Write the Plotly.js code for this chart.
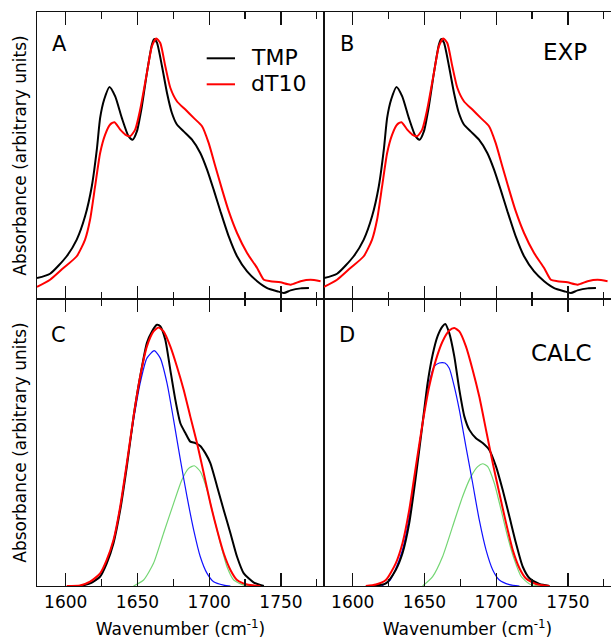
<!DOCTYPE html>
<html>
<head>
<meta charset="utf-8">
<script src="https://cdn.plot.ly/plotly-3.0.1.min.js"></script>
<style>html,body{margin:0;padding:0;background:#fff;}#chart{width:611px;height:641px;}</style>
</head>
<body>
<div id="chart"></div>
<script>
// ---------- EXP data (panels A and B) ----------
const expWnTMP = [1580,1589.1,1600.7,1607.7,1613.5,1618.2,1621.7,1624.0,1626.8,1630.5,1634.5,1639.1,1643.8,1646.6,1649.6,1653.1,1656.6,1660.1,1661.7,1663.6,1667.1,1670.6,1674.0,1677.5,1682.2,1688.0,1693.8,1698.5,1703.1,1707.8,1713.6,1719.4,1726.4,1733.4,1740.4,1747.4,1752.0,1756.7,1763.7,1769.5];
const expAbsTMP = [0.073,0.088,0.149,0.207,0.288,0.393,0.521,0.631,0.695,0.739,0.706,0.631,0.567,0.555,0.584,0.672,0.788,0.887,0.906,0.893,0.811,0.718,0.648,0.608,0.584,0.555,0.509,0.451,0.381,0.306,0.218,0.149,0.096,0.062,0.038,0.027,0.021,0.030,0.037,0.038];
const expWnDT10 = [1580,1589.1,1598.4,1607.7,1613.5,1617.0,1620.5,1624.0,1627.5,1631.0,1634.0,1638.0,1641.5,1644.9,1648.4,1651.9,1656.6,1660.1,1663.1,1665.9,1669.4,1672.9,1677.5,1683.4,1689.2,1695.0,1699.6,1704.3,1709.0,1713.6,1719.4,1726.4,1733.4,1738.1,1742.7,1749.7,1756.7,1763.7,1770.6,1777.6];
const expAbsDT10 = [0.042,0.067,0.108,0.149,0.207,0.277,0.393,0.509,0.573,0.608,0.616,0.590,0.573,0.567,0.590,0.660,0.788,0.881,0.908,0.892,0.811,0.736,0.689,0.660,0.631,0.602,0.544,0.462,0.381,0.306,0.230,0.160,0.108,0.067,0.062,0.058,0.050,0.062,0.067,0.062];

// ---------- CALC data, panel C ----------
const cWnTMP = [1610,1617.0,1624.0,1628.6,1633.3,1638.0,1642.6,1647.3,1651.9,1656.6,1660.1,1663.6,1665.9,1669.4,1672.9,1676.4,1679.9,1683.4,1686.8,1690.3,1693.8,1697.3,1700.8,1705.5,1710.1,1714.8,1719.4,1724.1,1731.1,1738.1];
const cAbsTMP = [0,0.009,0.033,0.079,0.149,0.265,0.416,0.591,0.730,0.847,0.887,0.910,0.905,0.858,0.753,0.649,0.567,0.533,0.503,0.498,0.488,0.463,0.428,0.347,0.265,0.184,0.102,0.044,0.012,0];
const cWnFit = [1600.7,1610,1617,1624,1628.6,1633.3,1638.0,1642.6,1647.3,1651.9,1656.6,1661.2,1664.7,1668.2,1672.9,1677.5,1682.2,1686.8,1691.5,1696.2,1700.8,1705.5,1710.1,1714.8,1719.4,1726.4,1735.7];
const cAbsFit = [0,0.002,0.015,0.044,0.091,0.160,0.277,0.428,0.591,0.730,0.835,0.887,0.901,0.887,0.835,0.765,0.684,0.591,0.498,0.393,0.288,0.195,0.114,0.056,0.021,0.005,0];
const cWnBlue = [1610,1617,1624,1628.6,1633.3,1638.0,1642.6,1647.3,1651.9,1656.6,1661.7,1665.9,1670.6,1675.2,1679.9,1684.5,1689.2,1693.8,1698.5,1703.1,1710.1,1714.8];
const cAbsBlue = [0,0.010,0.033,0.085,0.160,0.277,0.428,0.579,0.707,0.794,0.820,0.794,0.707,0.579,0.440,0.312,0.195,0.102,0.044,0.015,0.003,0];
const cWnGreen = [1647.3,1654.3,1661.2,1668.2,1675.2,1681.0,1685.7,1689.6,1693.8,1698.5,1703.1,1707.8,1712.4,1717.1,1724.1,1731.1];
const cAbsGreen = [0,0.021,0.079,0.184,0.288,0.370,0.410,0.419,0.399,0.335,0.242,0.149,0.067,0.021,0.003,0];

// ---------- CALC data, panel D ----------
const dWnTMP = [1613.8,1623.1,1630.0,1634.7,1639.4,1644.0,1648.7,1652.2,1655.7,1659.1,1662.6,1664.5,1667.3,1670.8,1674.3,1677.8,1681.3,1685.9,1690.6,1695.2,1699.9,1704.5,1709.2,1713.8,1718.5,1723.2,1730.1,1737.1];
const dAbsTMP = [0,0.009,0.056,0.114,0.219,0.381,0.567,0.707,0.806,0.870,0.905,0.913,0.881,0.800,0.684,0.591,0.544,0.515,0.498,0.474,0.416,0.335,0.242,0.149,0.067,0.027,0.007,0];
const dWnFit = [1609.1,1616.1,1623.1,1630.0,1634.7,1639.4,1644.0,1648.7,1653.3,1658.0,1662.6,1667.3,1670.8,1674.3,1678.9,1683.6,1688.2,1692.9,1697.6,1702.2,1706.9,1711.5,1716.2,1720.8,1727.8,1737.1];
const dAbsFit = [0,0.005,0.021,0.079,0.149,0.265,0.416,0.567,0.695,0.788,0.852,0.890,0.899,0.887,0.835,0.753,0.660,0.544,0.428,0.323,0.219,0.126,0.062,0.026,0.007,0];
const dWnBlue = [1620,1626,1630.0,1634.7,1639.4,1644.0,1648.7,1653.3,1656.8,1660.3,1664.3,1667.3,1670.8,1674.3,1678.9,1683.6,1688.2,1692.9,1697.6,1702.2,1709.2,1716.2];
const dAbsBlue = [0,0.020,0.060,0.126,0.242,0.405,0.567,0.707,0.765,0.777,0.777,0.759,0.695,0.614,0.486,0.358,0.230,0.126,0.056,0.021,0.005,0];
const dWnGreen = [1648.7,1655.7,1662.6,1669.6,1676.6,1682.4,1687.1,1690.6,1694.1,1698.7,1703.4,1708.0,1712.7,1717.4,1723.2,1730.1];
const dAbsGreen = [0,0.033,0.102,0.207,0.312,0.381,0.416,0.426,0.416,0.358,0.265,0.171,0.091,0.033,0.007,0];

const seriesNames = ['TMP', 'dT10'];
const panelLabels = ['A', 'B', 'C', 'D'];
const groupLabels = ['EXP', 'CALC'];
const xTitle = 'Wavenumber (cm<sup>-1</sup>)';
const yTitle = 'Absorbance (arbitrary units)';

const FONT = 'DejaVu Sans, Arial, sans-serif';
const BLACK = '#000000', RED = '#ff0000', BLUE = '#1010ff', GREEN = '#74d674';

function tr(x, y, color, width, xa, ya) {
  return {x: x, y: y, type: 'scatter', mode: 'lines', xaxis: xa, yaxis: ya,
          line: {color: color, width: width, shape: 'spline', smoothing: 0.6},
          showlegend: false, hoverinfo: 'skip'};
}

const data = [
  tr(expWnTMP, expAbsTMP, BLACK, 2, 'x', 'y'),
  tr(expWnDT10, expAbsDT10, RED, 2, 'x', 'y'),
  tr(expWnTMP, expAbsTMP, BLACK, 2, 'x2', 'y2'),
  tr(expWnDT10, expAbsDT10, RED, 2, 'x2', 'y2'),
  tr(cWnGreen, cAbsGreen, GREEN, 1.2, 'x3', 'y3'),
  tr(cWnBlue, cAbsBlue, BLUE, 1.2, 'x3', 'y3'),
  tr(cWnTMP, cAbsTMP, BLACK, 2, 'x3', 'y3'),
  tr(cWnFit, cAbsFit, RED, 2, 'x3', 'y3'),
  tr(dWnGreen, dAbsGreen, GREEN, 1.2, 'x4', 'y4'),
  tr(dWnBlue, dAbsBlue, BLUE, 1.2, 'x4', 'y4'),
  tr(dWnTMP, dAbsTMP, BLACK, 2, 'x4', 'y4'),
  tr(dWnFit, dAbsFit, RED, 2, 'x4', 'y4')
];

function xax(domain, anchor, labels) {
  const a = {domain: domain, anchor: anchor, range: [1580, 1780], showgrid: false, zeroline: false,
    showline: true, linecolor: '#111', linewidth: 1.3, mirror: 'ticks',
    ticks: 'inside', ticklen: 13, tickwidth: 1.3, tickcolor: '#111', tick0: 1600, dtick: 50,
    minor: {dtick: 25, tick0: 1600, ticks: 'inside', ticklen: 7, tickwidth: 1.3, tickcolor: '#111', showgrid: false},
    showticklabels: labels, tickfont: {family: FONT, size: 17, color: '#000'},
    fixedrange: true};
  if (labels) a.title = {text: xTitle, font: {family: FONT, size: 17, color: '#000'}, standoff: 12};
  return a;
}
function yax(domain, anchor, left) {
  const a = {domain: domain, anchor: anchor, range: [0, 1], showgrid: false, zeroline: false,
    showline: true, linecolor: '#111', linewidth: 1.3, mirror: left ? true : false,
    ticks: '', showticklabels: false, fixedrange: true};
  if (left) a.title = {text: yTitle, font: {family: FONT, size: 17, color: '#000'}, standoff: 4};
  return a;
}

const W = 574, H = 574, L = 37, B = 55, T = 12;
function px(x) { return (x - L) / W; }
function py(y) { return (641 - B - y) / H; }

const ann = [];
const labPos = [[50, 43.7], [337.7, 43.7], [49.3, 334.5], [337.3, 334.5]];
panelLabels.forEach((t, i) => ann.push({text: t, xref: 'paper', yref: 'paper', x: px(labPos[i][0]), y: py(labPos[i][1]),
  xanchor: 'left', yanchor: 'middle', showarrow: false, font: {family: FONT, size: 21, color: '#000'}}));
ann.push({text: groupLabels[0], xref: 'paper', yref: 'paper', x: px(565), y: py(51.7), xanchor: 'center', yanchor: 'middle',
  showarrow: false, font: {family: FONT, size: 23, color: '#000'}});
ann.push({text: groupLabels[1], xref: 'paper', yref: 'paper', x: px(561.3), y: py(353.3), xanchor: 'center', yanchor: 'middle',
  showarrow: false, font: {family: FONT, size: 23, color: '#000'}});
ann.push({text: seriesNames[0], xref: 'paper', yref: 'paper', x: px(249), y: py(57.3), xanchor: 'left', yanchor: 'middle',
  showarrow: false, font: {family: FONT, size: 22, color: '#000'}});
ann.push({text: seriesNames[1], xref: 'paper', yref: 'paper', x: px(249), y: py(83.3), xanchor: 'left', yanchor: 'middle',
  showarrow: false, font: {family: FONT, size: 22, color: '#000'}});

const shapes = [
  {type: 'line', xref: 'paper', yref: 'paper', x0: px(206.7), x1: px(235), y0: py(58.3), y1: py(58.3), line: {color: BLACK, width: 2}},
  {type: 'line', xref: 'paper', yref: 'paper', x0: px(206.7), x1: px(235), y0: py(84.3), y1: py(84.3), line: {color: RED, width: 2}}
];

const layout = {
  width: 611, height: 641,
  margin: {l: L, r: 0, t: T, b: B, pad: 0},
  paper_bgcolor: '#fff', plot_bgcolor: '#fff',
  showlegend: false,
  font: {family: FONT, color: '#000'},
  xaxis: xax([0, 0.5], 'y', false),
  yaxis: yax([0.5, 1], 'x', true),
  xaxis2: xax([0.5, 1], 'y2', false),
  yaxis2: yax([0.5, 1], 'x2', false),
  xaxis3: xax([0, 0.5], 'y3', true),
  yaxis3: yax([0, 0.5], 'x3', true),
  xaxis4: xax([0.5, 1], 'y4', true),
  yaxis4: yax([0, 0.5], 'x4', false),
  annotations: ann,
  shapes: shapes
};

Plotly.newPlot('chart', data, layout, {staticPlot: true, displayModeBar: false}).then(function (gd) {
  // drop empty placeholder title nodes of the untitled axes
  gd.querySelectorAll('text').forEach(function (t) {
    if (!t.textContent || !t.textContent.trim()) t.parentNode.removeChild(t);
  });
});
</script>
</body>
</html>
